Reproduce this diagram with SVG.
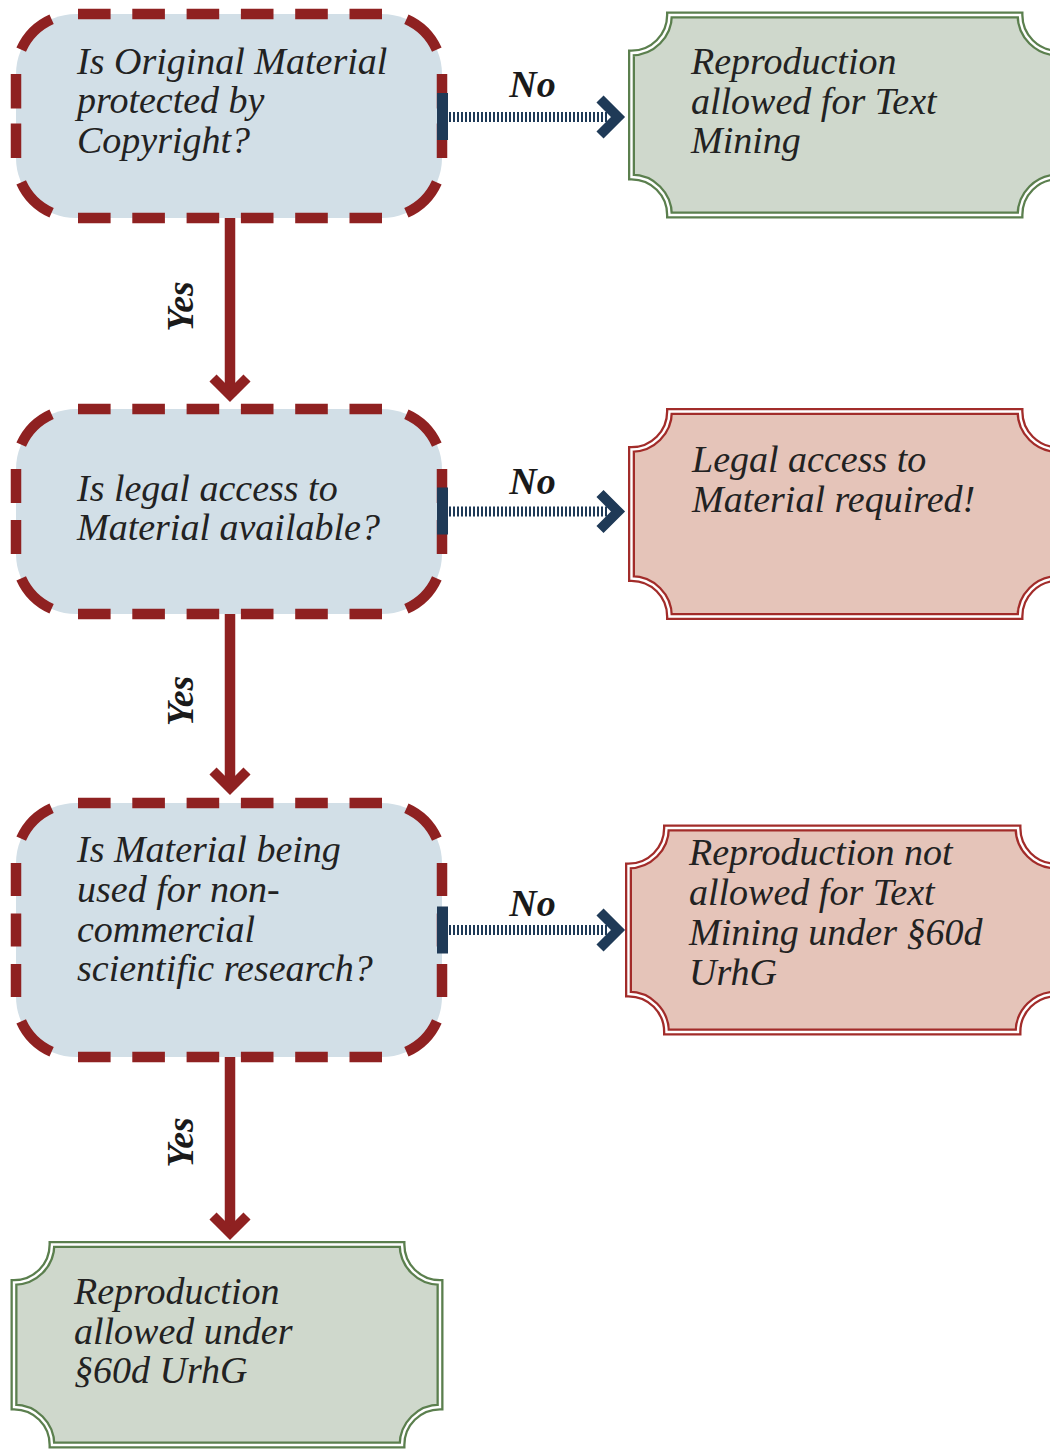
<svg xmlns="http://www.w3.org/2000/svg" width="1050" height="1450" viewBox="0 0 1050 1450">
  <defs>
    <style>
      .q-fill { fill: #d2dfe7; stroke: none; }
      .q-edge { fill: none; stroke: #8f2121; stroke-width: 10.5; stroke-linecap: butt; }
      .ok-shape { fill: #cfd8cc; stroke: #5b7f4e; stroke-width: 7; }
      .no-shape { fill: #e5c4b9; stroke: #a22c2a; stroke-width: 7; }
      .gap-line { fill: none; stroke: #ffffff; stroke-width: 2.4; }
      .body { font-family: "Liberation Serif", "Times New Roman", serif; font-style: italic; font-size: 38px; fill: #222222; }
      .lbl { font-family: "Liberation Serif", "Times New Roman", serif; font-style: italic; font-weight: bold; font-size: 38px; fill: #1a1a1a; }
      .yes-line { stroke: #8f2121; stroke-width: 10.5; fill: none; }
      .yes-head { stroke: #8f2121; stroke-width: 10; fill: none; stroke-linejoin: miter; stroke-miterlimit: 10; }
      .no-bar { fill: #1f3a57; }
      .no-line { stroke: #1f3a57; stroke-width: 10; stroke-dasharray: 2 2; fill: none; }
      .no-head { stroke: #1f3a57; stroke-width: 10; fill: none; stroke-linejoin: miter; stroke-miterlimit: 10; }
    </style>
  </defs>

  <rect width="1050" height="1450" fill="#ffffff"/>

  <!-- Question 1 -->
  <g id="q-copyright">
    <rect class="q-fill" x="16" y="14" width="426" height="204" rx="60" ry="60"/>
    <g class="q-edge">
      <path d="M78 14 H382" stroke-dasharray="32.6 21.7"/>
      <path d="M78 218 H382" stroke-dasharray="32.6 21.7"/>
      <path d="M16 74 V158" stroke-dasharray="34.5 15"/>
      <path d="M442 74 V158" stroke-dasharray="34.5 15"/>
      <path d="M21.2 49.6 A60 60 0 0 1 51.6 19.2"/>
      <path d="M406.4 19.2 A60 60 0 0 1 436.8 49.6"/>
      <path d="M436.8 182.4 A60 60 0 0 1 406.4 212.8"/>
      <path d="M51.6 212.8 A60 60 0 0 1 21.2 182.4"/>
    </g>
    <text class="body" x="77" y="73.5">Is Original Material</text>
    <text class="body" x="77" y="113">protected by</text>
    <text class="body" x="77" y="152.5">Copyright?</text>
  </g>

  <!-- Question 2 -->
  <g id="q-access">
    <rect class="q-fill" x="16" y="409" width="426" height="205" rx="60" ry="60"/>
    <g class="q-edge">
      <path d="M78 409 H382" stroke-dasharray="32.6 21.7"/>
      <path d="M78 614 H382" stroke-dasharray="32.6 21.7"/>
      <path d="M16 469 V554" stroke-dasharray="34 17"/>
      <path d="M442 469 V554" stroke-dasharray="34 17"/>
      <path d="M21.2 444.6 A60 60 0 0 1 51.6 414.2"/>
      <path d="M406.4 414.2 A60 60 0 0 1 436.8 444.6"/>
      <path d="M436.8 578.4 A60 60 0 0 1 406.4 608.8"/>
      <path d="M51.6 608.8 A60 60 0 0 1 21.2 578.4"/>
    </g>
    <text class="body" x="77" y="500.5">Is legal access to</text>
    <text class="body" x="77" y="540">Material available?</text>
  </g>

  <!-- Question 3 -->
  <g id="q-research">
    <rect class="q-fill" x="16" y="803" width="426" height="254" rx="60" ry="60"/>
    <g class="q-edge">
      <path d="M78 803 H382" stroke-dasharray="32.6 21.7"/>
      <path d="M78 1057 H382" stroke-dasharray="32.6 21.7"/>
      <path d="M16 863 V997" stroke-dasharray="33 17.5"/>
      <path d="M442 863 V997" stroke-dasharray="33 17.5"/>
      <path d="M21.2 838.6 A60 60 0 0 1 51.6 808.2"/>
      <path d="M406.4 808.2 A60 60 0 0 1 436.8 838.6"/>
      <path d="M436.8 1021.4 A60 60 0 0 1 406.4 1051.8"/>
      <path d="M51.6 1051.8 A60 60 0 0 1 21.2 1021.4"/>
    </g>
    <text class="body" x="77" y="862">Is Material being</text>
    <text class="body" x="77" y="901.7">used for non-</text>
    <text class="body" x="77" y="941.5">commercial</text>
    <text class="body" x="77" y="981">scientific research?</text>
  </g>

  <!-- Outcome: not protected -->
  <g id="r-free">
    <path class="ok-shape" d="M669.5 15 H1020 A38 38 0 0 0 1058 53 V177 A38 38 0 0 0 1020 215 H669.5 A38 38 0 0 0 631.5 177 V53 A38 38 0 0 0 669.5 15 Z"/>
    <path class="gap-line" d="M669.5 15 H1020 A38 38 0 0 0 1058 53 V177 A38 38 0 0 0 1020 215 H669.5 A38 38 0 0 0 631.5 177 V53 A38 38 0 0 0 669.5 15 Z"/>
    <text class="body" x="691" y="74">Reproduction</text>
    <text class="body" x="691" y="113.5">allowed for Text</text>
    <text class="body" x="691" y="153">Mining</text>
  </g>

  <!-- Outcome: no legal access -->
  <g id="r-access">
    <path class="no-shape" d="M669.5 411.5 H1020 A38 38 0 0 0 1058 449.5 V578.5 A38 38 0 0 0 1020 616.5 H669.5 A38 38 0 0 0 631.5 578.5 V449.5 A38 38 0 0 0 669.5 411.5 Z"/>
    <path class="gap-line" d="M669.5 411.5 H1020 A38 38 0 0 0 1058 449.5 V578.5 A38 38 0 0 0 1020 616.5 H669.5 A38 38 0 0 0 631.5 578.5 V449.5 A38 38 0 0 0 669.5 411.5 Z"/>
    <text class="body" x="692" y="472">Legal access to</text>
    <text class="body" x="692" y="511.5">Material required!</text>
  </g>

  <!-- Outcome: commercial use -->
  <g id="r-commercial">
    <path class="no-shape" d="M666.5 828 H1018 A38 38 0 0 0 1056 866 V994 A38 38 0 0 0 1018 1032 H666.5 A38 38 0 0 0 628.5 994 V866 A38 38 0 0 0 666.5 828 Z"/>
    <path class="gap-line" d="M666.5 828 H1018 A38 38 0 0 0 1056 866 V994 A38 38 0 0 0 1018 1032 H666.5 A38 38 0 0 0 628.5 994 V866 A38 38 0 0 0 666.5 828 Z"/>
    <text class="body" x="689" y="865">Reproduction not</text>
    <text class="body" x="689" y="905">allowed for Text</text>
    <text class="body" x="689" y="945">Mining under §60d</text>
    <text class="body" x="689" y="984.5">UrhG</text>
  </g>

  <!-- Outcome: permitted under 60d -->
  <g id="r-allowed">
    <path class="ok-shape" d="M52 1244.5 H402 A38 38 0 0 0 440 1282.5 V1407 A38 38 0 0 0 402 1445 H52 A38 38 0 0 0 14 1407 V1282.5 A38 38 0 0 0 52 1244.5 Z"/>
    <path class="gap-line" d="M52 1244.5 H402 A38 38 0 0 0 440 1282.5 V1407 A38 38 0 0 0 402 1445 H52 A38 38 0 0 0 14 1407 V1282.5 A38 38 0 0 0 52 1244.5 Z"/>
    <text class="body" x="74" y="1304">Reproduction</text>
    <text class="body" x="74" y="1343.5">allowed under</text>
    <text class="body" x="74" y="1383">§60d UrhG</text>
  </g>

  <!-- Connectors -->
  <g id="connectors">
    <!-- yes branches -->
    <line class="yes-line" x1="230" y1="218" x2="230" y2="396"/>
    <polyline class="yes-head" points="213,378 230,395 247,378"/>
    <line class="yes-line" x1="230" y1="614" x2="230" y2="789"/>
    <polyline class="yes-head" points="213,771 230,788 247,771"/>
    <line class="yes-line" x1="230" y1="1057" x2="230" y2="1234"/>
    <polyline class="yes-head" points="213,1216 230,1233 247,1216"/>

    <!-- no branches -->
    <rect class="no-bar" x="437" y="93" width="11" height="47"/>
    <line class="no-line" x1="449" y1="117" x2="608" y2="117"/>
    <polyline class="no-head" points="600,99 618,117 600,135"/>

    <rect class="no-bar" x="437" y="487.5" width="11" height="47"/>
    <line class="no-line" x1="449" y1="511.5" x2="608" y2="511.5"/>
    <polyline class="no-head" points="600,493.5 618,511.5 600,529.5"/>

    <rect class="no-bar" x="437" y="906.5" width="11" height="47"/>
    <line class="no-line" x1="449" y1="930" x2="608" y2="930"/>
    <polyline class="no-head" points="600,912 618,930 600,948"/>

    <!-- branch labels -->
    <text class="lbl" x="532.5" y="97" text-anchor="middle">No</text>
    <text class="lbl" x="532.5" y="494" text-anchor="middle">No</text>
    <text class="lbl" x="532.5" y="916" text-anchor="middle">No</text>
    <text class="lbl" text-anchor="middle" transform="translate(193 306.5) rotate(-90)">Yes</text>
    <text class="lbl" text-anchor="middle" transform="translate(193 701) rotate(-90)">Yes</text>
    <text class="lbl" text-anchor="middle" transform="translate(193 1142.5) rotate(-90)">Yes</text>
  </g>
</svg>
